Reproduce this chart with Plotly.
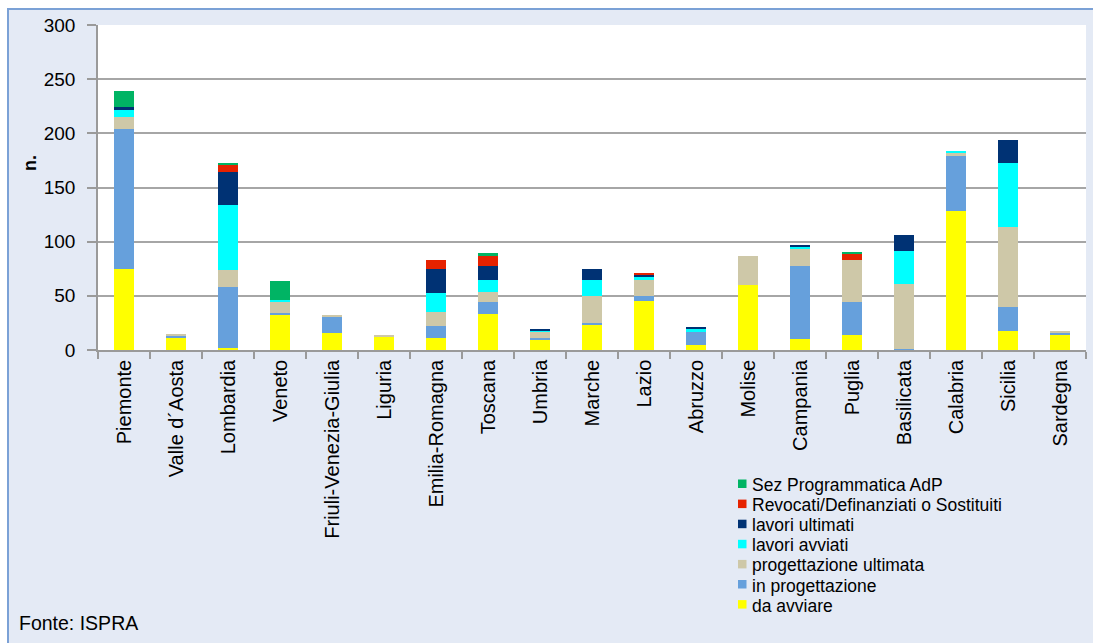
import plotly.graph_objects as go

regions = ["Piemonte", "Valle d´Aosta", "Lombardia", "Veneto", "Friuli-Venezia-Giulia",
           "Liguria", "Emilia-Romagna", "Toscana", "Umbria", "Marche", "Lazio", "Abruzzo",
           "Molise", "Campania", "Puglia", "Basilicata", "Calabria", "Sicilia", "Sardegna"]

da_avviare = [75, 11, 2, 33, 16, 12, 11, 33, 10, 23, 45, 5, 60, 10, 14, 0, 128, 18, 14]
in_progettazione = [129, 2, 56, 1, 15, 0, 11, 11, 1, 2, 5, 12, 0, 68, 30, 1, 51, 22, 2]
progettazione_ultimata = [11, 1, 16, 10, 1, 1, 13, 10, 6, 25, 15, 0, 27, 16, 39, 60, 3, 74, 1]
lavori_avviati = [7, 0, 60, 2, 0, 0, 18, 11, 1, 15, 3, 3, 0, 1, 0, 30, 2, 59, 0]
lavori_ultimati = [2, 0, 30, 0, 0, 0, 22, 13, 1, 10, 1, 1, 0, 2, 0, 15, 0, 21, 0]
revocati = [0, 0, 7, 0, 0, 0, 8, 9, 0, 0, 2, 0, 0, 0, 6, 0, 0, 0, 0]
sez_programmatica = [15, 0, 1, 18, 0, 0, 0, 3, 0, 0, 0, 0, 0, 0, 1, 0, 0, 0, 0]

series_names = ["da avviare", "in progettazione", "progettazione ultimata", "lavori avviati",
                "lavori ultimati", "Revocati/Definanziati o Sostituiti", "Sez Programmatica AdP"]
series_values = [da_avviare, in_progettazione, progettazione_ultimata, lavori_avviati,
                 lavori_ultimati, revocati, sez_programmatica]
series_colors = ["#FFFF00", "#66A0DC", "#CEC8A8", "#00FFFF", "#003274", "#E62200", "#00B464"]

y_ticks = [0, 50, 100, 150, 200, 250, 300]

FONT = "Liberation Sans, Arial, sans-serif"
W, H = 1093, 643
ML, MR, MT, MB = 98, 7, 25, 293
PW, PH = W - ML - MR, H - MT - MB


def px_x(p):
    return (p - ML) / PW


def px_y(p):
    return (H - MB - p) / PH


fig = go.Figure()
for name, vals, col in zip(series_names, series_values, series_colors):
    fig.add_trace(go.Bar(x=regions, y=vals, name=name, marker_color=col,
                         marker_line_width=0, showlegend=False))

shapes = [
    # outer light-blue panel with border
    dict(type="rect", xref="paper", yref="paper", layer="below",
         x0=px_x(8), x1=px_x(1120), y0=px_y(670), y1=px_y(9),
         fillcolor="#E4EAF5", line=dict(color="#7BA1D6", width=2)),
    # white plot area
    dict(type="rect", xref="paper", yref="paper", layer="below",
         x0=0, x1=1, y0=0, y1=1, fillcolor="white", line=dict(width=0)),
]

annotations = [
    dict(text="<b>n.</b>", xref="paper", yref="paper", x=px_x(30), y=px_y(163),
         showarrow=False, textangle=-90, font=dict(family=FONT, size=18, color="black"),
         xanchor="center", yanchor="middle"),
    dict(text="Fonte: ISPRA", xref="paper", yref="paper", x=px_x(17), y=px_y(623),
         showarrow=False, font=dict(family=FONT, size=19.5, color="black"),
         xanchor="left", yanchor="middle"),
]

# legend (top to bottom: reverse of stacking order)
leg_top = 484
leg_step = 20.1
for i, (name, col) in enumerate(zip(series_names[::-1], series_colors[::-1])):
    yc = leg_top + i * leg_step
    shapes.append(dict(type="rect", xref="paper", yref="paper",
                       x0=px_x(738), x1=px_x(746.5), y0=px_y(yc + 4), y1=px_y(yc - 4.5),
                       fillcolor=col, line=dict(width=0)))
    annotations.append(dict(text=name, xref="paper", yref="paper", x=px_x(750), y=px_y(yc + 1),
                            showarrow=False, xanchor="left", yanchor="middle",
                            font=dict(family=FONT, size=17.5, color="black")))

fig.update_layout(
    width=W, height=H, autosize=False,
    margin=dict(l=ML, r=MR, t=MT, b=MB, pad=0),
    paper_bgcolor="white", plot_bgcolor="white",
    barmode="stack", bargap=0.6,
    font=dict(family=FONT, color="black"),
    shapes=shapes, annotations=annotations,
    xaxis=dict(type="category", tickangle=-90, ticks="outside", tickson="boundaries",
               ticklen=7, tickcolor="#9A9A9A", tickwidth=1.5,
               showline=True, linecolor="#9A9A9A", linewidth=1.5,
               tickfont=dict(family=FONT, size=20, color="black"),
               showgrid=False),
    yaxis=dict(range=[0, 300], tickvals=y_ticks, ticks="outside", ticklen=9,
               tickcolor="#9A9A9A", tickwidth=1.5,
               showline=True, linecolor="#9A9A9A", linewidth=1.5,
               showgrid=True, gridcolor="#A6A6A6", gridwidth=1.5,
               zeroline=False,
               tickfont=dict(family=FONT, size=19, color="black"), ticklabelstandoff=8),
    showlegend=False,
)

fig.write_html("out.html")
